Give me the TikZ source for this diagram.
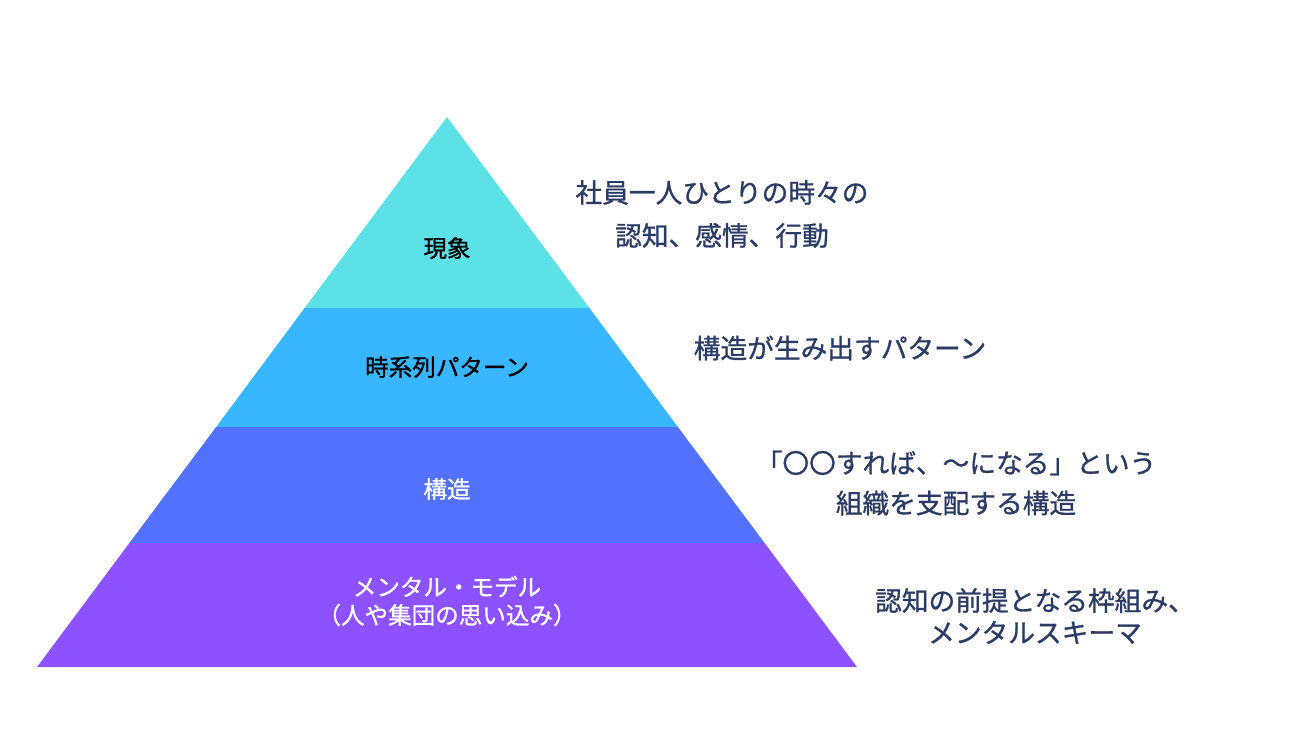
\documentclass[tikz,border=0pt]{standalone}
\usepackage{fontspec}
\setmainfont{Noto Sans CJK JP}[FakeBold=1]

\definecolor{laagA}{HTML}{5CE1E6}
\definecolor{laagB}{HTML}{38B6FF}
\definecolor{laagC}{HTML}{5271FF}
\definecolor{laagD}{HTML}{8C52FF}
\definecolor{inkt}{HTML}{2A3B66}

\begin{document}
\begin{tikzpicture}[x=0.02cm, y=-0.02cm]

% --- Styles ---
\tikzset{
    binnen/.style={
        font=\fontsize{13.4}{16}\selectfont,
        align=center,
        inner sep=0pt
    },
    uitleg/.style={
        text=inkt,
        font=\fontsize{15.2}{24.5}\selectfont,
        align=center,
        inner sep=0pt
    }
}

% canvas
\useasboundingbox (0,0) rectangle (1300,731);

% --- Pyramid layers ---
\fill[laagA] (447,117) -- (589.4,308) -- (304.6,308) -- cycle;
\fill[laagB] (304.6,308) -- (589.4,308) -- (677.9,427) -- (216.1,427) -- cycle;
\fill[laagC] (216.1,427) -- (677.9,427) -- (764.6,543) -- (129.4,543) -- cycle;
\fill[laagD] (129.4,543) -- (764.6,543) -- (857,667) -- (37,667) -- cycle;

% --- Labels in the pyramid ---
\node[binnen, text=black] (fenomeen) at (447,248) {現象};
\node[binnen, text=black] (patroon)  at (447,367) {時系列パターン};
\node[binnen, text=white] (structuur) at (447,489) {構造};
\node[binnen, text=white] (model)    at (447,601) {メンタル・モデル\\（人や集団の思い込み）};

% --- Explanations on the right ---
\node[uitleg] (uitlegA) at (722,214) {社員一人ひとりの時々の\\認知、感情、行動};
\node[uitleg] (uitlegB) at (840,348) {構造が生み出すパターン};
\node[uitleg] (uitlegC) at (956,483) {「〇〇すれば、〜になる」という\\[-1.7pt]組織を支配する構造};
\node[uitleg] (uitlegD) at (1035,616) {認知の前提となる枠組み、\\[-6.3pt]メンタルスキーマ};

\end{tikzpicture}
\end{document}
